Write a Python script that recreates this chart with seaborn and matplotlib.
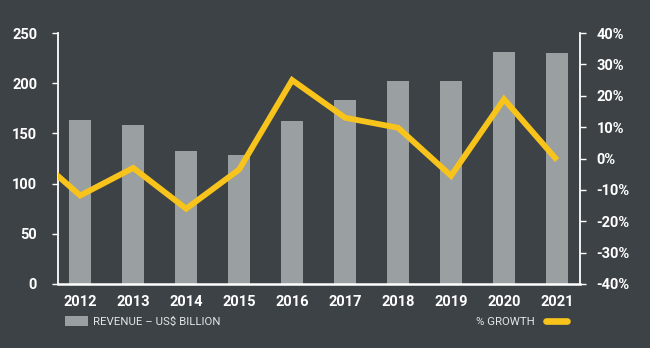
import numpy as np
import pandas as pd
import matplotlib
matplotlib.use("Agg")
import matplotlib.pyplot as plt
import seaborn as sns
from matplotlib.patches import Patch
from matplotlib.lines import Line2D

years = ["2012", "2013", "2014", "2015", "2016", "2017", "2018", "2019", "2020", "2021"]
revenue = [163, 158, 132.5, 128.5, 162, 183.5, 202, 202, 231, 230]
# growth series; first value is the (off-axis) 2011 point from which the line enters
growth_years = ["2011"] + years
growth = [3.0, -11.8, -3.0, -16.0, -3.5, 25.0, 13.0, 9.8, -5.5, 18.9, -0.5]

BG = "#3c4245"
BAR = "#9a9fa1"
YEL = "#f8c41b"
WHITE = "#ffffff"

sns.set_theme(style="white")
plt.rcParams['font.family'] = ['Roboto', 'DejaVu Sans']

fig = plt.figure(figsize=(6.5, 3.48), dpi=100, facecolor=BG)
ax = fig.add_axes([0.0892, 0.184, 0.8028, 0.721])
ax.set_facecolor(BG)

df = pd.DataFrame({"year": years, "revenue": revenue})
sns.barplot(data=df, x="year", y="revenue", color=BAR, width=0.41,
            saturation=1, ax=ax, zorder=2, edgecolor="none", linewidth=0)
ax.set_ylim(0, 250)
ax.set_yticks([0, 50, 100, 150, 200, 250])
ax.set_xlim(-0.42, 9.43)
ax.set_xlabel("")
ax.set_ylabel("")

ax2 = ax.twinx()
gdf = pd.DataFrame({"pos": np.arange(len(growth_years)) - 1, "growth": growth})
sns.lineplot(data=gdf, x="pos", y="growth", color=YEL, linewidth=4.2,
             ax=ax2, solid_joinstyle="miter", solid_capstyle="butt", zorder=3)
ax2.set_ylim(-40, 40)
ax2.set_yticks([-40, -30, -20, -10, 0, 10, 20, 30, 40])
ax2.set_yticklabels([f"{v}%" for v in range(-40, 41, 10)])
ax2.set_xlim(-0.42, 9.43)
ax2.set_xlabel("")
ax2.set_ylabel("")

for a in (ax, ax2):
    for s in a.spines.values():
        s.set_visible(False)

ax.spines["left"].set_visible(True)
ax.spines["left"].set_color(WHITE)
ax.spines["left"].set_linewidth(1.3)
ax.spines["bottom"].set_visible(True)
ax.spines["bottom"].set_color(WHITE)
ax.spines["bottom"].set_linewidth(1.8)
ax2.spines["right"].set_visible(True)
ax2.spines["right"].set_color(WHITE)
ax2.spines["right"].set_linewidth(1.3)

ax.tick_params(axis="y", colors=WHITE, length=4, width=1, pad=11,
               labelsize=10.5, left=True)
ax.tick_params(axis="x", colors=WHITE, length=0, pad=8, labelsize=10.5)
ax2.tick_params(axis="y", colors=WHITE, length=4, width=1, pad=8,
                labelsize=10.5, right=True)
for lab in ax.get_yticklabels() + ax.get_xticklabels() + ax2.get_yticklabels():
    lab.set_fontweight("bold")
    lab.set_color(WHITE)

# legends
leg1 = fig.legend(handles=[Patch(facecolor=BAR, edgecolor="none")],
                  labels=["REVENUE \u2013 US$ BILLION"],
                  loc="center left", bbox_to_anchor=(0.084, 0.075),
                  frameon=False, handlelength=2.0, handleheight=0.95,
                  handletextpad=0.45, labelcolor="#e4e6e7",
                  prop={"family": ["Roboto", "DejaVu Sans"], "size": 8.2})
leg2 = fig.legend(handles=[Line2D([], [], color=YEL, linewidth=4.8,
                                  solid_capstyle="round")],
                  labels=["% GROWTH"], markerfirst=False,
                  loc="center right", bbox_to_anchor=(0.888, 0.075),
                  frameon=False, handlelength=1.8, handletextpad=1.0,
                  labelcolor="#e4e6e7",
                  prop={"family": ["Roboto", "DejaVu Sans"], "size": 8.2})

fig.savefig("out.png", dpi=100, facecolor=BG)
